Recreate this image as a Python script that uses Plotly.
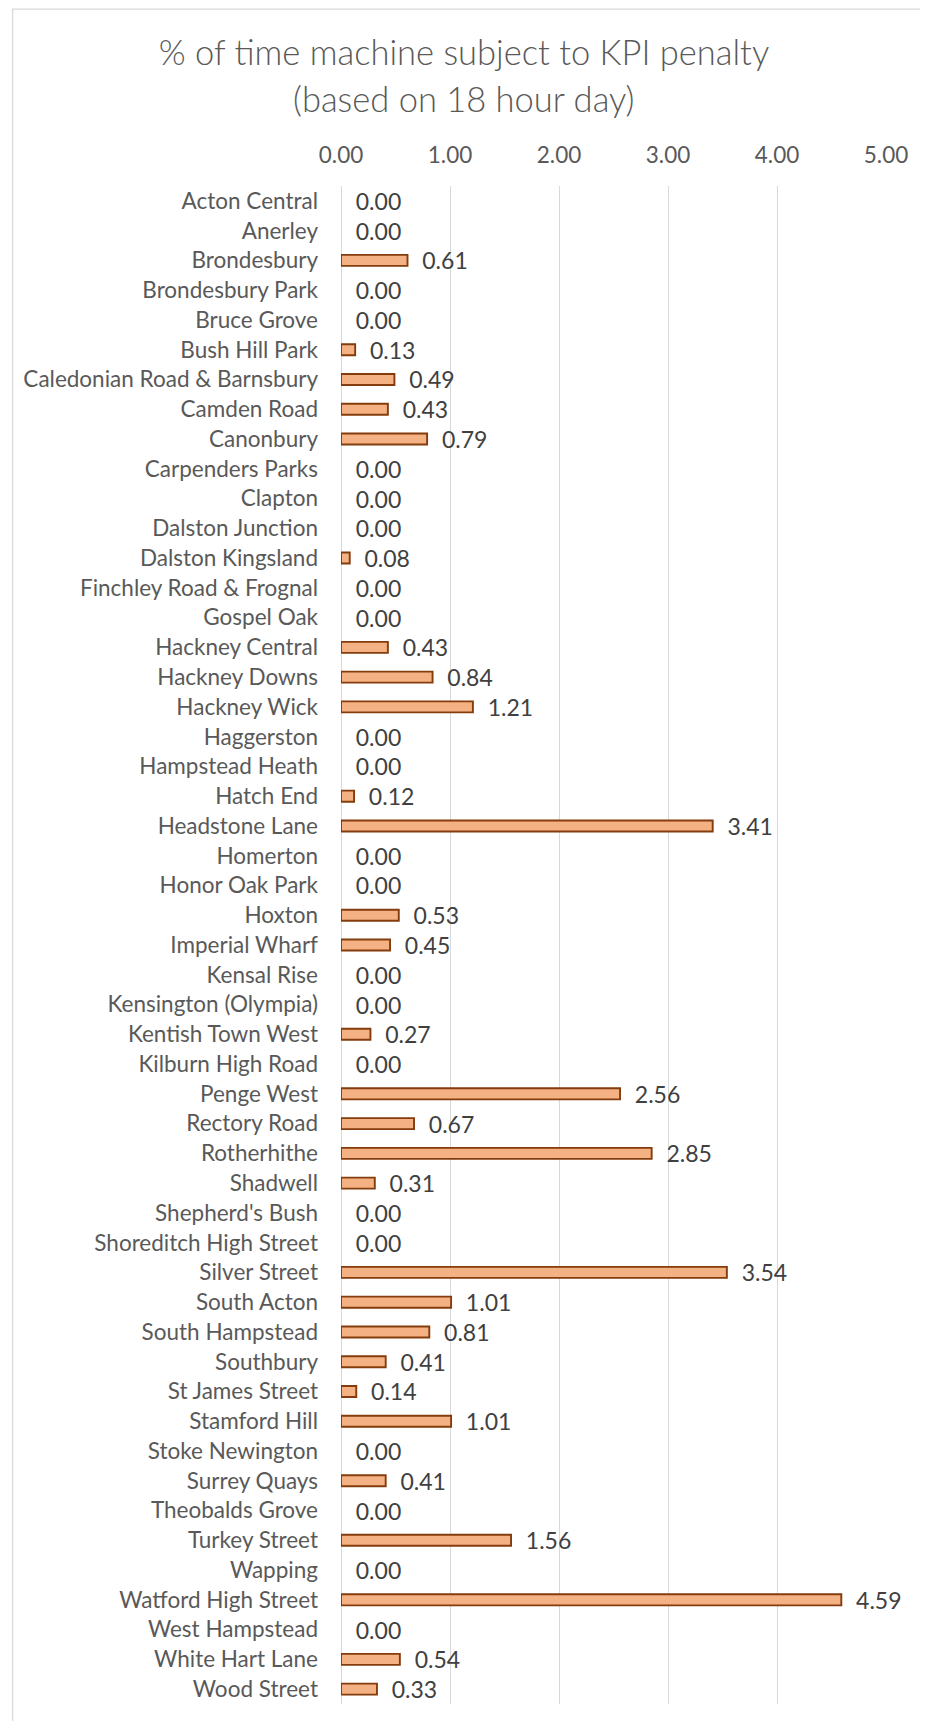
import plotly.graph_objects as go

stations = [
    "Acton Central", "Anerley", "Brondesbury", "Brondesbury Park", "Bruce Grove",
    "Bush Hill Park", "Caledonian Road & Barnsbury", "Camden Road", "Canonbury",
    "Carpenders Parks", "Clapton", "Dalston Junction", "Dalston Kingsland",
    "Finchley Road & Frognal", "Gospel Oak", "Hackney Central", "Hackney Downs",
    "Hackney Wick", "Haggerston", "Hampstead Heath", "Hatch End", "Headstone Lane",
    "Homerton", "Honor Oak Park", "Hoxton", "Imperial Wharf", "Kensal Rise",
    "Kensington (Olympia)", "Kentish Town West", "Kilburn High Road", "Penge West",
    "Rectory Road", "Rotherhithe", "Shadwell", "Shepherd's Bush",
    "Shoreditch High Street", "Silver Street", "South Acton", "South Hampstead",
    "Southbury", "St James Street", "Stamford Hill", "Stoke Newington",
    "Surrey Quays", "Theobalds Grove", "Turkey Street", "Wapping",
    "Watford High Street", "West Hampstead", "White Hart Lane", "Wood Street",
]
penalty_pct = [
    0.00, 0.00, 0.61, 0.00, 0.00,
    0.13, 0.49, 0.43, 0.79,
    0.00, 0.00, 0.00, 0.08,
    0.00, 0.00, 0.43, 0.84,
    1.21, 0.00, 0.00, 0.12, 3.41,
    0.00, 0.00, 0.53, 0.45, 0.00,
    0.00, 0.27, 0.00, 2.56,
    0.67, 2.85, 0.31, 0.00,
    0.00, 3.54, 1.01, 0.81,
    0.41, 0.14, 1.01, 0.00,
    0.41, 0.00, 1.56, 0.00,
    4.59, 0.00, 0.54, 0.33,
]
x_ticks = [0, 1, 2, 3, 4, 5]
x_tick_labels = ["0.00", "1.00", "2.00", "3.00", "4.00", "5.00"]
title_line1 = "% of time machine subject to KPI penalty"
title_line2 = "(based on 18 hour day)"

# page body has an 8px default margin; size the figure so page == window
OFF = 8
WIN_W, WIN_H = 928, 1729
W, H = WIN_W - 2 * OFF, WIN_H - 2 * OFF

# target screen positions (px) -> figure coordinates
X0_SCREEN, X5_SCREEN = 340.7, 889.5
Y_TOP_SCREEN, Y_BOT_SCREEN = 185.8, 1704.0
ML = X0_SCREEN - OFF
MR = W - (X5_SCREEN - OFF)
MT = Y_TOP_SCREEN - OFF
MB = H - (Y_BOT_SCREEN - OFF)
FONT = "Lato"

# no outline on zero-length bars (Excel draws nothing there)
outline_widths = [1.9 if v > 0 else 0 for v in penalty_pct]

fig = go.Figure()
fig.add_trace(go.Bar(
    x=penalty_pct,
    y=stations,
    orientation="h",
    marker=dict(color="#F4B183", line=dict(color="#843C0C", width=outline_widths)),
    texttemplate="\u00a0\u00a0%{x:.2f}",
    textposition="outside",
    constraintext="none",
    textfont=dict(family=FONT, size=23, color="#404040"),
    cliponaxis=False,
    hoverinfo="skip",
))

pw = W - ML - MR
ph = H - MT - MB

def px_x(p):
    return (p - OFF - ML) / pw

def px_y(p):
    return (H - MB - (p - OFF)) / ph

fig.update_layout(
    width=W, height=H,
    margin=dict(l=ML, r=MR, t=MT, b=MB, pad=0),
    paper_bgcolor="white",
    plot_bgcolor="white",
    showlegend=False,
    bargap=0.63,
    title=dict(
        text=title_line1,
        x=(WIN_W / 2 - OFF) / W, xref="container", xanchor="center",
        y=1 - (53 - OFF) / H, yref="container", yanchor="middle",
        font=dict(family=FONT, size=34.5, color="#595959", weight=300),
    ),
    xaxis=dict(
        side="top",
        range=[0, 5],
        tickmode="array",
        tickvals=x_ticks,
        ticktext=x_tick_labels,
        showgrid=True,
        gridcolor="#D9D9D9",
        gridwidth=1.3,
        zeroline=True,
        zerolinecolor="#D9D9D9",
        zerolinewidth=1.3,
        showline=False,
        ticks="",
        ticklabelstandoff=18,
        tickfont=dict(family=FONT, size=22.5, color="#595959"),
        fixedrange=True,
    ),
    yaxis=dict(
        categoryorder="array",
        categoryarray=stations,
        autorange="reversed",
        showgrid=False,
        zeroline=False,
        showline=False,
        ticks="",
        ticklabelstandoff=22,
        tickfont=dict(family=FONT, size=22.5, color="#595959"),
        fixedrange=True,
    ),
)

fig.add_annotation(
    text=title_line2,
    xref="paper", yref="paper",
    x=px_x(WIN_W / 2), y=px_y(98),
    xanchor="center", yanchor="middle",
    showarrow=False,
    font=dict(family=FONT, size=34.5, color="#595959", weight=300),
)

fig.add_shape(
    type="rect",
    xref="paper", yref="paper",
    x0=px_x(10), x1=px_x(WIN_W + 20),
    y0=px_y(WIN_H + 20), y1=px_y(9),
    line=dict(color="#D9D9D9", width=1.3),
    fillcolor="rgba(0,0,0,0)",
    layer="below",
)

fig.write_html("out.html")
